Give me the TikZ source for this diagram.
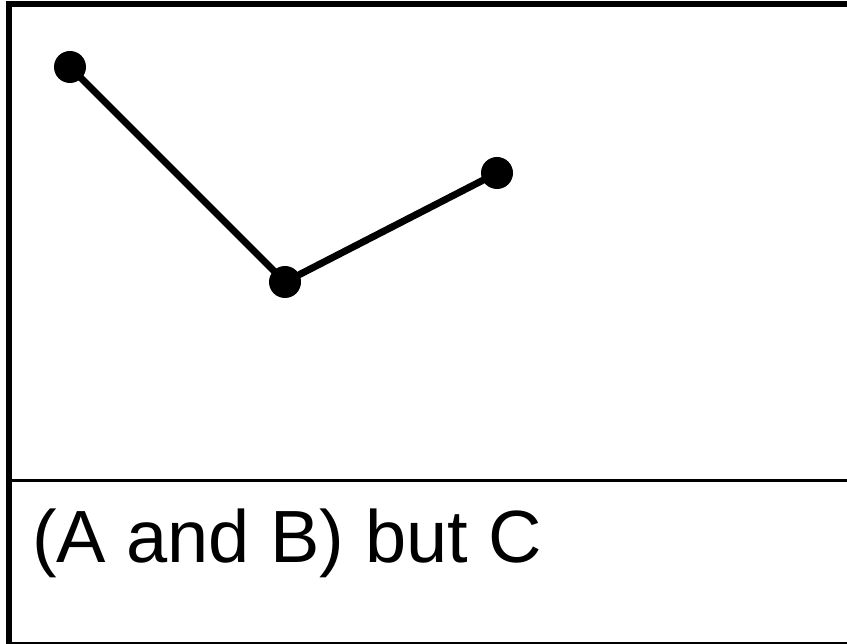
\documentclass[tikz,border=0pt]{standalone}
\usepackage{fontspec}
\setmainfont{Liberation Sans}

\begin{document}
\begin{tikzpicture}[x=1pt,y=-1pt,line width=7pt,
    dot/.style={circle,fill=black,inner sep=0pt,minimum size=32pt}]
  \useasboundingbox (0,0) rectangle (847,644);
  % frame
  \draw[line width=6pt] (9,644) -- (9,4.5) -- (847,4.5);
  \draw[line width=2.5pt] (12,480.5) -- (847,480.5);
  \draw[line width=2pt] (12,643) -- (847,643);
  % polyline
  \node[dot] (p1) at (70,67) {};
  \node[dot] (p2) at (285,282) {};
  \node[dot] (p3) at (497,173) {};
  \draw (p1.center) -- (p2.center) -- (p3.center);
  \node[anchor=base west,inner sep=0pt,font=\fontsize{74}{89}\selectfont] (cap) at (28.5,562) {(A and B) but C};
\end{tikzpicture}
\end{document}
